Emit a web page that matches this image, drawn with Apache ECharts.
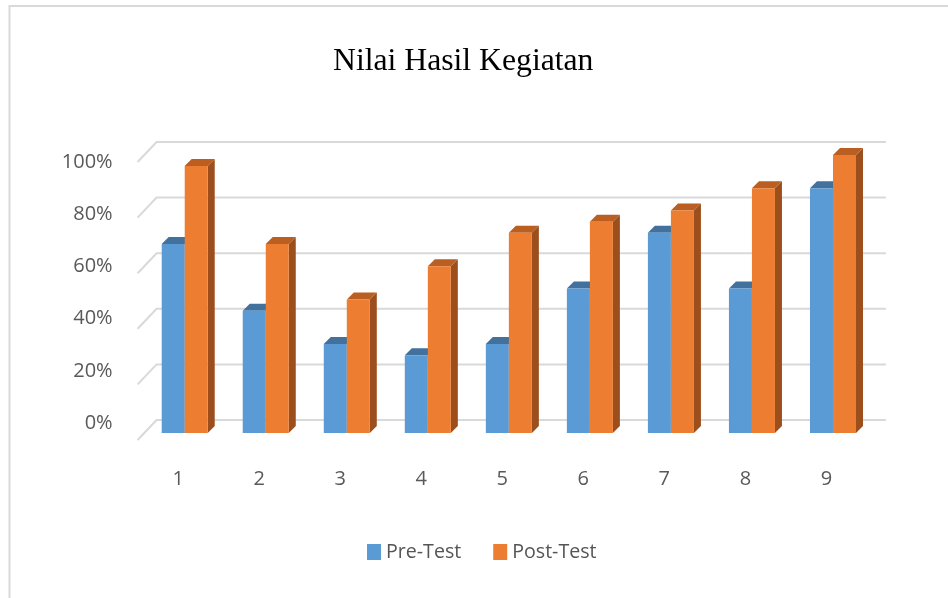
<!DOCTYPE html>
<html>
<head>
<meta charset="utf-8">
<script src="https://cdn.jsdelivr.net/npm/echarts@6/dist/echarts.min.js"></script>
<style>
html,body{margin:0;padding:0;background:#fff;}
#chart{width:948px;height:598px;}
</style>
</head>
<body>
<div id="chart"></div>
<script>
// ---- data ----
const titleText = 'Nilai Hasil Kegiatan';
const categories = ['1','2','3','4','5','6','7','8','9'];
const seriesNames = ['Pre-Test','Post-Test'];
const preTest = [68, 44, 32, 28, 32, 52, 72, 52, 88];
const postTest = [96, 68, 48, 60, 72, 76, 80, 88, 100];
const yTicks = [0, 20, 40, 60, 80, 100];

// ---- styling ----
const FONT = "'Open Sans', 'Liberation Sans', sans-serif";
const TEXT_COLOR = '#595959';
const GRID_COLOR = '#d9d9d9';
const blue = {front:'#5B9BD5', top:'#41719C', side:'#3F6E99'};
const orange = {front:'#ED7D31', top:'#BA5E21', side:'#9C4F1D'};
const DEPTH = 7;          // bar depth (px, oblique)
const BACK_DX = 12.4, BACK_DY = -13;   // bar plane -> back wall
const FRONT_DX = -6.6, FRONT_DY = 7;   // bar plane -> front plane

function makeBarRenderer(side, colors){
  return function(params, api){
    const i = api.value(0);
    const v = api.value(1);
    const top = api.coord([i, v]);
    const bot = api.coord([i, 0]);
    const bw = api.size([1, 0])[0] * 0.284;
    const x0 = side < 0 ? top[0] - bw : top[0];
    const x1 = x0 + bw;
    const yT = top[1], yB = bot[1];
    const d = DEPTH;
    return {
      type: 'group',
      children: [
        {type:'polygon', shape:{points:[[x1,yT],[x1+d,yT-d],[x1+d,yB-d],[x1,yB]]}, style:{fill:colors.side}},
        {type:'polygon', shape:{points:[[x0,yT],[x0+d,yT-d],[x1+d,yT-d],[x1,yT]]}, style:{fill:colors.top}},
        {type:'rect', shape:{x:x0, y:yT, width:bw, height:yB-yT}, style:{fill:colors.front}}
      ]
    };
  };
}

function gridRenderer(params, api){
  const v = api.value(1);
  const y = api.coord([0, v])[1];
  const cs = params.coordSys;
  const xL = cs.x, xR = cs.x + cs.width;
  return {
    type: 'polyline',
    shape: {points: [[xL+FRONT_DX, y+FRONT_DY], [xL+BACK_DX, y+BACK_DY], [xR+BACK_DX, y+BACK_DY]]},
    style: {stroke: GRID_COLOR, lineWidth: 2, fill: null}
  };
}

const chart = echarts.init(document.getElementById('chart'), null, {renderer:'canvas'});
chart.setOption({
  backgroundColor: '#ffffff',
  animation: false,
  title: {
    text: titleText,
    left: 328,
    top: 41,
    textStyle: {fontFamily: "'Liberation Serif', 'Times New Roman', serif", fontSize: 31.7, fontWeight: 'normal', color: '#000000'}
  },
  legend: {
    data: seriesNames,
    left: 362,
    top: 537,
    icon: 'rect',
    itemWidth: 14,
    itemHeight: 16,
    itemGap: 32,
    textStyle: {fontFamily: FONT, fontSize: 19.6, color: '#555555'}
  },
  graphic: [{
    type: 'rect',
    shape: {x: 9.5, y: 6, width: 1200, height: 1200},
    style: {fill: null, stroke: GRID_COLOR, lineWidth: 2},
    silent: true, z: -10
  }],
  grid: [
    {left: 144.2, right: 74.5, top: 155, bottom: 165},
    {left: 137.6, right: 81.1, top: 162, bottom: 175}
  ],
  xAxis: [
    {type:'category', gridIndex:0, data: categories, show: false},
    {type:'category', gridIndex:1, data: categories,
     axisLine:{show:false}, axisTick:{show:false}, splitLine:{show:false},
     axisLabel:{margin: 46, fontFamily: FONT, fontSize: 20, color: TEXT_COLOR}}
  ],
  yAxis: [
    {type:'value', gridIndex:0, min:0, max:100, interval:20, show:false},
    {type:'value', gridIndex:1, min:0, max:100, interval:20,
     axisLine:{show:false}, axisTick:{show:false}, splitLine:{show:false},
     axisLabel:{margin: 25, formatter:'{value}%', fontFamily: FONT, fontSize: 20, color: TEXT_COLOR}}
  ],
  series: [
    {
      name: 'grid', type: 'custom', xAxisIndex:0, yAxisIndex:0, silent:true, z:1,
      renderItem: gridRenderer,
      data: yTicks.map(t => [0, t])
    },
    {
      name: seriesNames[0], type: 'custom', xAxisIndex:0, yAxisIndex:0, z:2,
      itemStyle: {color: blue.front},
      renderItem: makeBarRenderer(-1, blue),
      data: preTest.map((v, i) => [i, v])
    },
    {
      name: seriesNames[1], type: 'custom', xAxisIndex:0, yAxisIndex:0, z:3,
      itemStyle: {color: orange.front},
      renderItem: makeBarRenderer(1, orange),
      data: postTest.map((v, i) => [i, v])
    }
  ]
});
</script>
</body>
</html>
